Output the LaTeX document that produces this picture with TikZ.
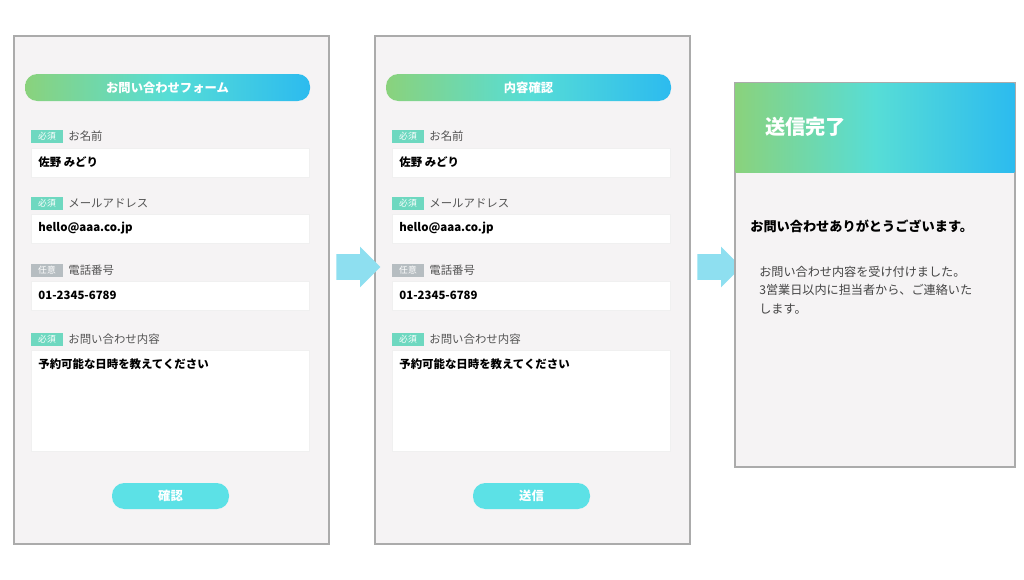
\documentclass[tikz,border=0pt]{standalone}
\usepackage{fontspec}
\setmainfont{Noto Sans CJK JP}
\usetikzlibrary{shapes.arrows}
\definecolor{panelbg}{HTML}{F5F3F4}
\definecolor{panelline}{HTML}{ABABAB}
\definecolor{gradgreen}{HTML}{8AD27C}
\definecolor{gradcyan}{HTML}{57DDD6}
\definecolor{gradblue}{HTML}{2CBBEF}
\definecolor{mustgreen}{HTML}{6ED8C0}
\definecolor{optgray}{HTML}{B6BDC1}
\definecolor{buttoncyan}{HTML}{5CE1E6}
\definecolor{arrowblue}{HTML}{8EDFF0}
\definecolor{labeltext}{HTML}{555555}
\definecolor{bodytext}{HTML}{444444}
\begin{document}
\begin{tikzpicture}[x=0.02cm,y=-0.02cm,
    panelstyle/.style={draw=panelline, line width=1.2pt, fill=panelbg},
    pillstyle/.style={rounded corners=7pt, left color=gradgreen, right color=gradblue, middle color=gradcyan},
    badgestyle/.style={fill=mustgreen, text=white, font=\fontsize{5}{5}\selectfont, minimum width=0.64cm, minimum height=0.26cm, inner sep=0pt},
    labelstyle/.style={anchor=west, text=labeltext, font=\fontsize{6.5}{7}\selectfont, inner sep=0pt},
    fieldstyle/.style={fill=white, draw=black!6, line width=0.3pt},
    valuestyle/.style={anchor=west, font=\bfseries\fontsize{6.5}{7}\selectfont, inner sep=0pt},
    arrowstyle/.style={single arrow, fill=arrowblue, single arrow head extend=0.15cm, minimum height=0.88cm, inner xsep=0pt, inner ysep=0.25cm}
]
    \useasboundingbox (0,0) rectangle (1024,579);
    % two form panels
    \foreach \i/\ox/\ttl/\btn in {1/0/お問い合わせフォーム/確認, 2/361/内容確認/送信} {
        \begin{scope}[xshift=\ox*0.02cm]
        \draw[panelstyle] (14,36) rectangle (329,544);
        \shade[pillstyle] (25,74) rectangle (310,101);
        \node[text=white, font=\bfseries\fontsize{7}{8}\selectfont] (title\i) at (167.5,87.5) {\ttl};
        % fields
        \foreach \j/\by/\fy/\fh/\lbl/\val in {1/136/148/29/お名前/佐野 みどり, 2/203/214/29/メールアドレス/hello@aaa.co.jp, 3/270/281/29/電話番号/01-2345-6789, 4/339/350/101/お問い合わせ内容/予約可能な日時を教えてください} {
            \node[badgestyle] (badge\i\j) at (47,\by) {必須};
            \node[labelstyle] (label\i\j) at (68,\by) {\lbl};
            \draw[fieldstyle] (31,\fy) rectangle (309,\fy+\fh);
            \node[valuestyle] (value\i\j) at (38,\fy+14.5) {\val};
        }
        \node[badgestyle, fill=optgray] (opt\i) at (47,270) {任意};
        \fill[buttoncyan, rounded corners=7pt] (112,483) rectangle (229,509);
        \node[text=white, font=\bfseries\fontsize{7}{8}\selectfont] (button\i) at (170.5,496) {\btn};
        \end{scope}
    }
    % arrows between panels
    \node[arrowstyle] (arr1) at (352,267) {};
    \node[arrowstyle] (arr2) at (713,267) {};
    % result panel
    \draw[panelstyle] (735,83) rectangle (1015,467);
    \shade[left color=gradgreen, right color=gradblue, middle color=gradcyan] (735.6,83.6) rectangle (1014.4,172);
    \node[anchor=west, text=white, font=\bfseries\fontsize{11.5}{14}\selectfont] (donetitle) at (759,127) {送信完了};
    \node[anchor=west, font=\bfseries\fontsize{7.5}{9}\selectfont, inner sep=0pt] (thanks) at (750,226) {お問い合わせありがとうございます。};
    \node[anchor=north west, text=bodytext, font=\fontsize{6.9}{10.4}\selectfont, align=left, inner sep=0pt] (message) at (759,266) {お問い合わせ内容を受け付けました。\\3営業日以内に担当者から、ご連絡いた\\します。};
\end{tikzpicture}
\end{document}
